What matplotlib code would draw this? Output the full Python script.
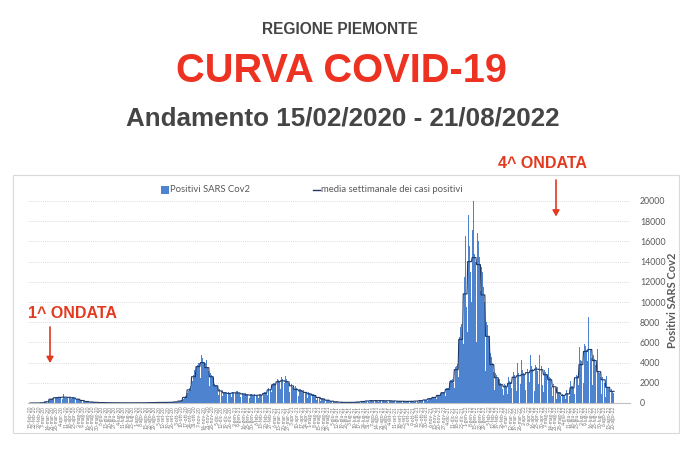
import numpy as np
import pandas as pd
import matplotlib
matplotlib.use("Agg")
import matplotlib.pyplot as plt
from matplotlib.patches import Rectangle
from matplotlib.lines import Line2D

# ---------------- data ----------------
data_inizio = "2020-02-15"
data_fine = "2022-08-21"
mesi = ["gen", "feb", "mar", "apr", "mag", "giu", "lug", "ago", "set", "ott", "nov", "dic"]

# Sat 15/02/2020 and Sun 16/02/2020
primi_giorni = [0, 0]
# daily positives, one row per week (Mon..Sun), from 17/02/2020 to 21/08/2022
positivi_settimane = [
    [0, 0, 0, 0, 0, 1, 2],
    [0, 1, 1, 3, 4, 5, 6],
    [8, 12, 18, 25, 30, 40, 45],
    [60, 85, 110, 130, 150, 180, 130],
    [250, 300, 370, 400, 430, 470, 440],
    [420, 480, 560, 600, 540, 550, 490],
    [450, 600, 640, 610, 570, 560, 490],
    [430, 620, 850, 620, 560, 520, 460],
    [420, 600, 680, 640, 580, 520, 480],
    [380, 540, 600, 560, 520, 460, 440],
    [300, 420, 450, 420, 380, 350, 340],
    [220, 300, 290, 260, 240, 220, 220],
    [120, 180, 170, 160, 140, 140, 140],
    [80, 120, 115, 105, 95, 95, 90],
    [55, 85, 80, 75, 65, 65, 65],
    [35, 60, 55, 55, 50, 45, 50],
    [30, 50, 45, 42, 40, 36, 37],
    [20, 38, 34, 32, 30, 28, 28],
    [18, 30, 28, 27, 25, 24, 23],
    [12, 25, 23, 22, 20, 19, 19],
    [13, 24, 22, 22, 20, 20, 19],
    [12, 22, 20, 19, 18, 17, 18],
    [13, 24, 22, 21, 20, 20, 20],
    [14, 25, 22, 20, 21, 19, 19],
    [15, 27, 25, 24, 22, 20, 21],
    [16, 30, 28, 27, 26, 24, 24],
    [22, 40, 38, 38, 37, 36, 34],
    [30, 55, 50, 48, 46, 43, 43],
    [35, 65, 62, 58, 57, 55, 53],
    [38, 72, 68, 64, 62, 58, 58],
    [40, 78, 72, 70, 68, 64, 63],
    [45, 85, 82, 80, 80, 78, 75],
    [60, 100, 110, 115, 125, 130, 130],
    [100, 160, 180, 210, 240, 260, 250],
    [280, 420, 500, 580, 650, 720, 700],
    [600, 1000, 1200, 1400, 1500, 1700, 1700],
    [1300, 2200, 2500, 2800, 3000, 3300, 3100],
    [2200, 3600, 3800, 3900, 4000, 4000, 3700],
    [2500, 4200, 4800, 4500, 4400, 4000, 3600],
    [2200, 4000, 4300, 3800, 3600, 3400, 3200],
    [1700, 2900, 3000, 2800, 2700, 2600, 2500],
    [1100, 1900, 2000, 1800, 1800, 1700, 1600],
    [800, 1300, 1400, 1300, 1250, 1200, 1150],
    [650, 1100, 1150, 1100, 1050, 1000, 950],
    [600, 1100, 1100, 1050, 1000, 900, 900],
    [600, 1050, 1200, 1100, 1050, 1050, 950],
    [650, 1200, 1150, 1100, 1000, 1000, 900],
    [550, 1050, 1050, 1000, 950, 900, 800],
    [500, 950, 900, 900, 850, 800, 700],
    [480, 900, 900, 860, 820, 780, 720],
    [470, 880, 870, 840, 800, 760, 700],
    [480, 900, 880, 860, 830, 800, 710],
    [550, 1000, 1050, 1050, 1050, 1000, 950],
    [800, 1350, 1450, 1450, 1400, 1400, 1250],
    [1100, 1900, 2000, 1950, 2000, 1900, 1750],
    [1300, 2300, 2400, 2300, 2300, 2200, 1900],
    [1350, 2600, 2500, 2400, 2350, 2250, 1950],
    [1300, 2700, 2400, 2300, 2200, 2000, 1800],
    [1100, 2100, 2000, 1900, 1700, 1600, 1500],
    [700, 1300, 1650, 1600, 1500, 1450, 1250],
    [700, 1400, 1400, 1350, 1300, 1250, 1000],
    [600, 1250, 1250, 1150, 1100, 1050, 950],
    [500, 1100, 1050, 1000, 950, 900, 800],
    [400, 900, 880, 850, 800, 750, 670],
    [300, 650, 640, 620, 600, 550, 490],
    [220, 480, 470, 450, 430, 400, 350],
    [150, 330, 320, 310, 300, 280, 270],
    [100, 210, 210, 200, 190, 180, 170],
    [70, 140, 135, 130, 125, 120, 120],
    [45, 95, 90, 85, 85, 80, 80],
    [35, 70, 68, 65, 62, 60, 60],
    [35, 70, 68, 64, 64, 60, 59],
    [40, 80, 78, 75, 75, 72, 70],
    [55, 105, 110, 110, 110, 110, 100],
    [80, 160, 165, 165, 165, 165, 150],
    [110, 220, 220, 220, 215, 215, 200],
    [130, 260, 250, 250, 245, 240, 235],
    [140, 270, 265, 260, 255, 245, 245],
    [130, 260, 255, 250, 245, 240, 230],
    [120, 250, 245, 240, 235, 230, 220],
    [120, 255, 245, 240, 235, 230, 215],
    [110, 230, 225, 215, 210, 210, 200],
    [100, 205, 200, 195, 190, 190, 180],
    [95, 195, 190, 185, 180, 175, 170],
    [90, 185, 180, 175, 170, 160, 160],
    [95, 195, 190, 185, 180, 175, 170],
    [100, 215, 215, 205, 200, 200, 195],
    [120, 260, 260, 250, 245, 240, 235],
    [150, 330, 340, 330, 325, 320, 305],
    [210, 440, 470, 460, 460, 470, 430],
    [280, 600, 610, 610, 600, 600, 550],
    [380, 800, 830, 830, 820, 830, 760],
    [500, 1100, 1100, 1100, 1100, 1100, 1000],
    [650, 1500, 1500, 1500, 1450, 1450, 1400],
    [1000, 2300, 2300, 2300, 2400, 2400, 2000],
    [1500, 3400, 3600, 3700, 3900, 3900, 3100],
    [2600, 6500, 7000, 7500, 7800, 6500, 6200],
    [5800, 10500, 12500, 14000, 16500, 9500, 6800],
    [7000, 18600, 19800, 15500, 13000, 14100, 10000],
    [6500, 17100, 20000, 17200, 14800, 14000, 11200],
    [6000, 16800, 16500, 16000, 15000, 14500, 11100],
    [5000, 13500, 13000, 12500, 11500, 10000, 9400],
    [3200, 8600, 8000, 7700, 7000, 6500, 5200],
    [2000, 5000, 4600, 4300, 4000, 3600, 3100],
    [1300, 3300, 3000, 2800, 2600, 2400, 2100],
    [900, 2400, 2200, 2000, 1900, 1800, 1400],
    [800, 2100, 1900, 1800, 1700, 1600, 1300],
    [900, 2600, 2400, 2200, 2100, 2000, 1450],
    [1100, 3500, 3100, 2900, 2800, 2600, 1850],
    [1200, 4000, 3200, 3000, 2900, 2700, 1900],
    [1200, 4300, 3300, 3100, 3000, 2800, 1900],
    [1300, 4500, 3500, 3400, 3200, 3000, 2100],
    [1400, 4800, 3700, 3600, 3400, 3200, 2300],
    [1200, 6300, 3800, 3600, 3500, 3200, 1850],
    [1000, 4800, 4500, 3900, 3700, 3400, 1800],
    [1100, 4200, 3300, 3100, 3000, 2900, 2000],
    [900, 3500, 2700, 2600, 2500, 2300, 1600],
    [650, 2500, 1900, 1800, 1700, 1500, 1150],
    [400, 1600, 1200, 1100, 1050, 950, 700],
    [300, 1200, 900, 800, 800, 700, 550],
    [350, 1300, 1050, 1000, 1000, 950, 650],
    [550, 2200, 1700, 1700, 1650, 1600, 1100],
    [900, 3600, 2900, 2800, 2800, 2700, 1800],
    [1500, 5500, 4300, 4200, 4200, 4000, 2900],
    [2000, 7400, 5800, 5600, 5500, 5200, 4200],
    [2200, 8500, 6100, 5500, 5300, 5000, 4500],
    [1800, 7300, 4800, 4400, 4100, 3800, 3200],
    [1300, 5300, 3500, 3200, 3000, 2800, 2600],
    [900, 3900, 2600, 2400, 2200, 2000, 2100],
    [600, 2700, 1800, 1600, 1500, 1400, 1250],
    [450, 1900, 1400, 1200, 1100, 1000, 1000],
]

# ---------------- derived series ----------------
giornalieri = np.array(primi_giorni + [v for w in positivi_settimane for v in w], dtype=float)
media_sett = np.concatenate(
    [np.full(len(primi_giorni), np.mean(primi_giorni))]
    + [np.full(7, np.mean(w)) for w in positivi_settimane]
)
date = pd.date_range(data_inizio, data_fine, freq="D")
giorni = np.arange(len(giornalieri))

# ---------------- figure ----------------
W, H = 680, 449
fig = plt.figure(figsize=(W / 100, H / 100), dpi=100)
fig.patch.set_facecolor("white")

def fx(px):
    return px / W

def fy(py):
    return 1 - py / H

# chart frame
fig.add_artist(Rectangle((fx(13), fy(433)), fx(679) - fx(13), fy(175) - fy(433),
                         transform=fig.transFigure, fill=False,
                         edgecolor="#d9d9d9", linewidth=0.8))

ax = fig.add_axes([fx(28), fy(403), fx(630) - fx(28), fy(201) - fy(403)])
ppd = (614 - 30) / (len(giornalieri) - 1)
x_left = -(30 - 28) / ppd
x_right = x_left + (630 - 28) / ppd

blu = "#4d83cf"
navy = "#1f3864"
bars = ax.bar(giorni, giornalieri, width=0.9, color=blu, linewidth=0)
line, = ax.plot(giorni, media_sett, color=navy, linewidth=0.8)

ax.set_xlim(x_left, x_right)
ax.set_ylim(0, 20000)
ax.yaxis.tick_right()
ax.set_yticks(np.arange(0, 20001, 2000))
ax.tick_params(axis="y", length=0, pad=7, labelsize=6.3, labelcolor="#595959")
for lab in ax.get_yticklabels():
    lab.set_family("Lato")
ax.grid(axis="y", color="#d0d0d0", linestyle=(0, (1, 1.5)), linewidth=0.6)
ax.set_axisbelow(True)
for s in ["top", "left", "right"]:
    ax.spines[s].set_visible(False)
ax.spines["bottom"].set_color("#bfbfbf")
ax.spines["bottom"].set_linewidth(0.8)

tick_idx = giorni[::7]
tick_lab = [f"{date[i].day}-{mesi[date[i].month - 1]}-{date[i].year % 100}" for i in tick_idx]
ax.set_xticks(tick_idx)
ax.set_xticklabels(tick_lab, rotation=90, fontsize=3.6, color="#7a7a7a", family="Lato")
ax.tick_params(axis="x", length=0, pad=2)

# y label
fig.text(fx(672), fy(300), "Positivi SARS Cov2", rotation=90, ha="center", va="center",
         fontsize=8.0, fontweight="bold", color="#595959", family="Lato")

# legend (manual)
fig.add_artist(Rectangle((fx(161), fy(194)), fx(169) - fx(161), fy(186) - fy(194),
                         transform=fig.transFigure, facecolor=bars.patches[0].get_facecolor(),
                         edgecolor="none"))
fig.text(fx(170.5), fy(190), "Positivi SARS Cov2", ha="left", va="center",
         fontsize=6.8, color="#595959", family="Lato")
fig.add_artist(Line2D([fx(313), fx(320)], [fy(189.5), fy(189.5)], transform=fig.transFigure,
                      color=line.get_color(), linewidth=1.0))
fig.text(fx(321), fy(190), "media settimanale dei casi positivi", ha="left", va="center",
         fontsize=6.8, color="#595959", family="Lato")

# titles
tf = "Liberation Sans"
fig.text(fx(340), fy(34), "REGIONE PIEMONTE", ha="center", va="baseline",
         fontsize=11.2, fontweight="bold", color="#454545", family=tf)
fig.text(fx(341), fy(81.5), "CURVA COVID-19", ha="center", va="baseline",
         fontsize=28.7, fontweight="bold", color="#ee3222", family=tf)
fig.text(fx(343), fy(125), "Andamento 15/02/2020 - 21/08/2022", ha="center", va="baseline",
         fontsize=18.7, fontweight="bold", color="#454545", family=tf)

# wave annotations
rosso = "#e2391f"
fig.text(fx(28.5), fy(318.5), "1^ ONDATA", ha="left", va="baseline",
         fontsize=11.5, fontweight="bold", color=rosso, family=tf)
fig.text(fx(542), fy(168.5), "4^ ONDATA", ha="center", va="baseline",
         fontsize=11.5, fontweight="bold", color=rosso, family=tf)
for xa, y0, y1 in [(50, 327, 363), (556, 180, 216.5)]:
    fig.add_artist(matplotlib.patches.FancyArrowPatch(
        (fx(xa), fy(y0)), (fx(xa), fy(y1)), transform=fig.transFigure,
        arrowstyle="-|>,head_length=3.5,head_width=2", color=rosso,
        linewidth=1.2, mutation_scale=1, shrinkA=0, shrinkB=0))

fig.savefig("out.png", dpi=100, facecolor="white")
